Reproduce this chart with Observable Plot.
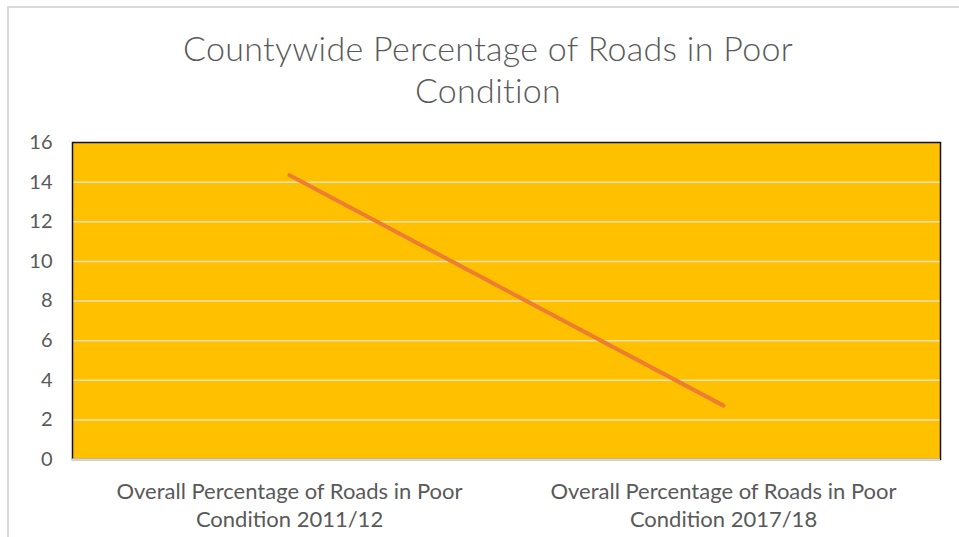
<!DOCTYPE html>
<html>
<head>
<meta charset="utf-8">
<script src="https://cdn.jsdelivr.net/npm/d3@7"></script>
<script src="https://cdn.jsdelivr.net/npm/@observablehq/plot@0.6"></script>
<style>
  html, body { margin: 0; padding: 0; background: #fff; }
  #wrap { position: relative; width: 959px; height: 537px; overflow: hidden; font-family: Lato, "Open Sans", sans-serif; }
  #border { position: absolute; left: 7px; top: 6px; width: 960px; height: 540px; border-left: 2px solid #d9d9d9; border-top: 2px solid #d9d9d9; box-sizing: border-box; }
  #title { position: absolute; left: 0; top: 27px; width: 976px; text-align: center; font-size: 34px; line-height: 42px; color: #595959; font-weight: 300; letter-spacing: 0.3px; }
  #chart { position: absolute; left: 0; top: 120px; }
</style>
</head>
<body>
<div id="wrap">
  <div id="border"></div>
  <div id="title">Countywide Percentage of Roads in Poor<br>Condition</div>
  <div id="chart"></div>
</div>
<script>
const categories = [
  "Overall Percentage of Roads in Poor\nCondition 2011/12",
  "Overall Percentage of Roads in Poor\nCondition 2017/18"
];
const values = [14.35, 2.72];
const yTicks = [0, 2, 4, 6, 8, 10, 12, 14, 16];

const data = categories.map((c, i) => ({category: c, value: values[i]}));

const plot = Plot.plot({
  width: 959,
  height: 417,
  marginLeft: 72,
  marginRight: 19,
  marginTop: 22,
  marginBottom: 78,
  style: {fontFamily: "Lato, 'Open Sans', sans-serif", background: "transparent", color: "#595959"},
  x: {type: "point", domain: categories, padding: 0.5, label: null},
  y: {domain: [0, 16], label: null},
  marks: [
    Plot.frame({fill: "#FFC000", stroke: null}),
    Plot.ruleY(yTicks.filter(t => t > 0 && t < 16), {stroke: "#ece0bd", strokeWidth: 1.5}),
    Plot.frame({stroke: "#111", strokeWidth: 1.5}),
    Plot.ruleY([0], {stroke: "#d9d9d9", strokeWidth: 2}),
    Plot.axisY({ticks: yTicks, tickSize: 0, tickPadding: 20, fontSize: 20, label: null, color: "#595959"}),
    Plot.axisX({tickSize: 0, tickPadding: 20, fontSize: 22, lineHeight: 1.25, label: null, color: "#595959"}),
    Plot.line(data, {x: "category", y: "value", stroke: "#ED7D31", strokeWidth: 4, strokeLinecap: "round"})
  ]
});
document.getElementById("chart").appendChild(plot);
</script>
</body>
</html>
